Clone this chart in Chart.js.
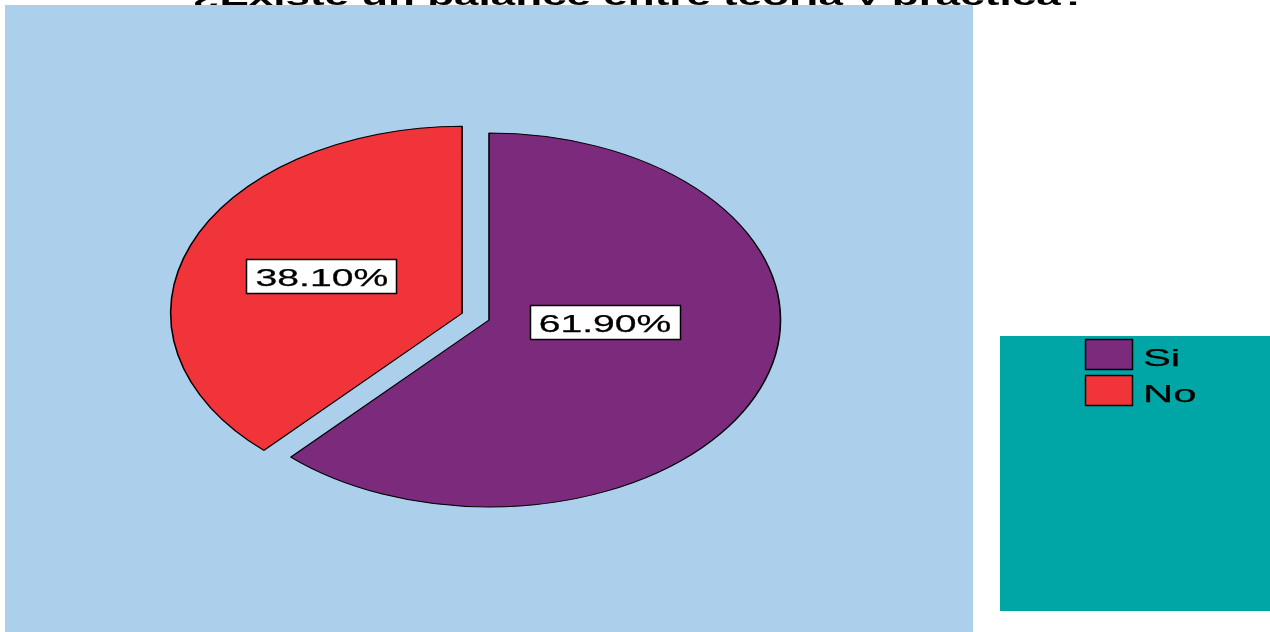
<!DOCTYPE html>
<html>
<head>
<meta charset="utf-8">
<script src="https://cdn.jsdelivr.net/npm/chart.js@4/dist/chart.umd.min.js"></script>
<style>
  html, body { margin: 0; padding: 0; background: #fff; overflow: hidden; }
  #wrap { width: 1270px; height: 632px; position: relative; }
</style>
</head>
<body>
<div id="wrap"><canvas id="pie" width="1270" height="632"></canvas></div>
<script>
// data
const categories = ['Si', 'No'];
const values = [61.9, 38.1];
const valueLabels = ['61.90%', '38.10%'];
const chartTitle = '¿Existe un balance entre teoría y práctica?';

// styling
const sliceColors = ['#7B2A7C', '#F0343A'];
const plotBg = '#ACCFEC';
const legendBg = '#00A6A6';
const stretchX = 1.559;   // the pie is drawn as an ellipse
const textStretch = 1.7;  // text in the original is wide too
const explode = [0, 18.5];
const labelSpots = [[0.398, 0.013], [-0.481, -0.195]];
const font = '"Liberation Sans", Arial, sans-serif';

const pieCenter = (chart) => {
  const a = chart.chartArea;
  return { x: (a.left + a.right) / 2, y: (a.top + a.bottom) / 2 };
};

const wideText = (ctx, text, x, y, sx, align, heavy) => {
  ctx.save();
  ctx.translate(x, y);
  ctx.scale(sx, 1);
  ctx.textAlign = align;
  ctx.fillText(text, 0, 0);
  if (heavy) {
    ctx.lineWidth = heavy;
    ctx.strokeStyle = ctx.fillStyle;
    ctx.strokeText(text, 0, 0);
  }
  ctx.restore();
};

const backdrop = {
  id: 'backdrop',
  beforeDraw(chart) {
    const ctx = chart.ctx;
    ctx.save();
    ctx.fillStyle = '#fff';
    ctx.fillRect(0, 0, chart.width, chart.height);

    // title sits behind the plot box, only its lower part shows
    ctx.fillStyle = '#000';
    ctx.font = 'bold 25px ' + font;
    ctx.textBaseline = 'alphabetic';
    wideText(ctx, chartTitle, 640, 5, 1.76, 'center');

    ctx.fillStyle = plotBg;
    ctx.fillRect(5, 5, 968, 627);

    // legend
    ctx.fillStyle = legendBg;
    ctx.fillRect(1000, 336, 270, 275);
    ctx.font = '24px ' + font;
    categories.forEach((name, i) => {
      const top = 339 + i * 36;
      ctx.fillStyle = sliceColors[i];
      ctx.fillRect(1085, top, 48, 31);
      ctx.strokeStyle = '#000';
      ctx.lineWidth = 1.5;
      ctx.strokeRect(1085.5, top + 0.5, 47, 30);
      ctx.fillStyle = '#000';
      wideText(ctx, name, 1143, top + 27, 1.74, 'left', 0.25);
    });
    ctx.restore();
  },
  afterDatasetsUpdate(chart) {
    const meta = chart.getDatasetMeta(0);
    meta.data.forEach((arc, i) => {
      if (!explode[i]) return;
      const half = (arc.startAngle + arc.endAngle) / 2;
      arc.x += Math.cos(half) * explode[i];
      arc.y += Math.sin(half) * explode[i];
    });
  },
  beforeDatasetsDraw(chart) {
    const c = pieCenter(chart);
    chart.ctx.save();
    chart.ctx.translate(c.x, 0);
    chart.ctx.scale(stretchX, 1);
    chart.ctx.translate(-c.x, 0);
  },
  afterDatasetsDraw(chart) {
    const ctx = chart.ctx;
    ctx.restore();
    const c = pieCenter(chart);
    const meta = chart.getDatasetMeta(0);
    ctx.save();
    ctx.font = '23px ' + font;
    meta.data.forEach((arc, i) => {
      const r = arc.outerRadius;
      const ex = c.x + (arc.x - c.x) * stretchX;
      const lx = ex + labelSpots[i][0] * r * stretchX;
      const ly = arc.y + labelSpots[i][1] * r;
      const tw = ctx.measureText(valueLabels[i]).width * textStretch;
      const w = Math.round(tw + 18);
      const h = 35;
      const bx = Math.round(lx - w / 2);
      const by = Math.round(ly - h / 2);
      ctx.fillStyle = '#fff';
      ctx.fillRect(bx, by, w, h);
      ctx.strokeStyle = '#000';
      ctx.lineWidth = 1.5;
      ctx.strokeRect(bx + 0.5, by + 0.5, w - 1, h - 1);
      ctx.fillStyle = '#000';
      wideText(ctx, valueLabels[i], lx, by + 27, textStretch, 'center', 0.25);
    });
    ctx.restore();
  }
};

new Chart(document.getElementById('pie'), {
  type: 'pie',
  data: {
    labels: categories,
    datasets: [{
      data: values,
      backgroundColor: sliceColors,
      borderColor: '#000',
      borderWidth: 1,
      radius: 187
    }]
  },
  options: {
    responsive: false,
    devicePixelRatio: 1,
    animation: false,
    events: [],
    layout: { padding: { left: 0, right: 292, top: 8, bottom: 0 } },
    plugins: {
      legend: { display: false },
      title: { display: false },
      tooltip: { enabled: false }
    }
  },
  plugins: [backdrop]
});
</script>
</body>
</html>
